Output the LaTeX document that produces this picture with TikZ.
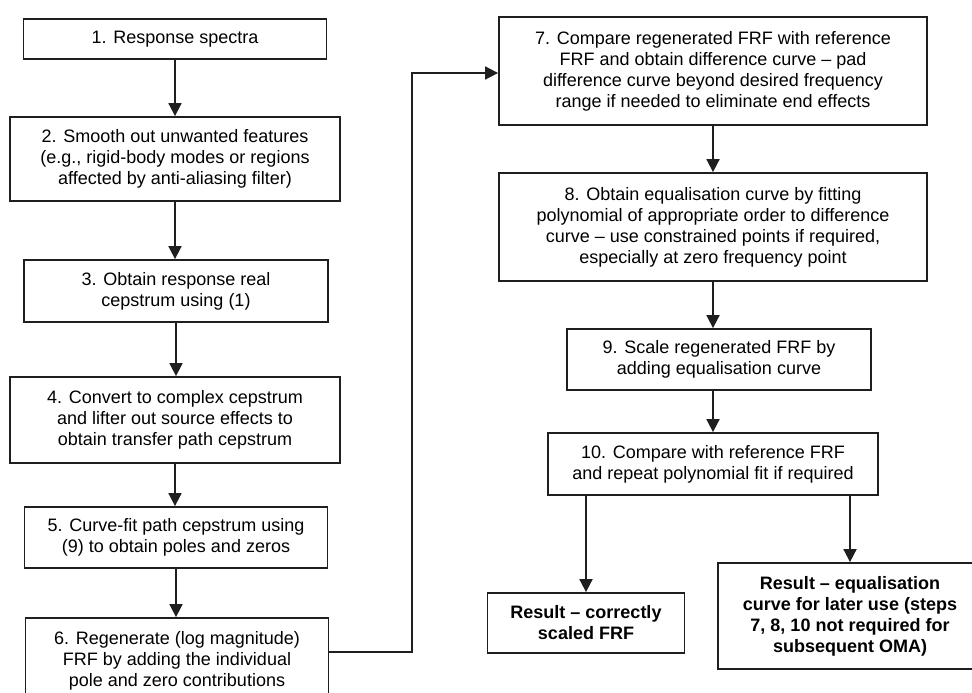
\documentclass[tikz,border=0pt]{standalone}
\usepackage{fontspec}
\setmainfont{Liberation Sans}
\usetikzlibrary{arrows.meta,calc}
\begin{document}
\begin{tikzpicture}[x=1pt,y=-1pt,
  box/.style={draw=black!88,line width=1.8pt,inner sep=0pt,align=center,
    font=\fontsize{18}{21}\selectfont},
  res/.style={box,font=\bfseries\fontsize{18}{21}\selectfont},
  arr/.style={-{Triangle[length=13pt,width=13pt]},line width=1.8pt,draw=black!88}]
\useasboundingbox (0,0) rectangle (972,693);
\clip (0,0) rectangle (972,693);
% left column
\node[box,minimum width=303pt,minimum height=40pt] (b1) at (175,39) {1. Response spectra};
\node[box,minimum width=330pt,minimum height=84pt] (b2) at (175,159)
  {2. Smooth out unwanted features\\(e.g., rigid-body modes or regions\\affected by anti-aliasing filter)};
\node[box,minimum width=304pt,minimum height=62pt] (b3) at (176,291)
  {3. Obtain response real\\cepstrum using (1)};
\node[box,minimum width=330pt,minimum height=86pt] (b4) at (175,420)
  {4. Convert to complex cepstrum\\and lifter out source effects to\\obtain transfer path cepstrum};
\node[box,minimum width=303pt,minimum height=61pt] (b5) at (176,537.5)
  {5. Curve-fit path cepstrum using\\(9) to obtain poles and zeros};
\node[box,minimum width=303pt,minimum height=86pt] (b6) at (177,661)
  {6. Regenerate (log magnitude)\\FRF by adding the individual\\pole and zero contributions};
% right column
\node[box,minimum width=428pt,minimum height=108pt] (b7) at (713,71)
  {7. Compare regenerated FRF with reference\\FRF and obtain difference curve – pad\\difference curve beyond desired frequency\\range if needed to eliminate end effects};
\node[box,minimum width=428pt,minimum height=108pt] (b8) at (713,227)
  {8. Obtain equalisation curve by fitting\\polynomial of appropriate order to difference\\curve – use constrained points if required,\\especially at zero frequency point};
\node[box,minimum width=304pt,minimum height=61pt] (b9) at (719,359.5)
  {9. Scale regenerated FRF by\\adding equalisation curve};
\node[box,minimum width=330pt,minimum height=62pt] (b10) at (713,464)
  {10. Compare with reference FRF\\and repeat polynomial fit if required};
\node[res,minimum width=197pt,minimum height=60pt] (r1) at (586,623)
  {Result – correctly\\scaled FRF};
\node[res,minimum width=264pt,minimum height=106pt] (r2) at (850,616)
  {Result – equalisation\\curve for later use (steps\\7, 8, 10 not required for\\subsequent OMA)};
% connectors
\draw[arr] (b1.south) -- (b1.south |- b2.north);
\draw[arr] (b2.south) -- (b2.south |- b3.north);
\draw[arr] (b3.south) -- (b3.south |- b4.north);
\draw[arr] (b4.south) -- (b4.south |- b5.north);
\draw[arr] (b5.south) -- (b5.south |- b6.north);
\coordinate (turn) at (412,73);
\draw[arr] ($(b6.north east)+(0,35)$) -| (turn) -- (turn -| b7.west);
\draw[arr] (b7.south) -- (b7.south |- b8.north);
\draw[arr] (b8.south) -- (b8.south |- b9.north);
\draw[arr] (b8.south |- b9.south) -- (b8.south |- b10.north);
\draw[arr] (r1.north |- b10.south) -- (r1.north);
\draw[arr] (r2.north |- b10.south) -- (r2.north);
\end{tikzpicture}
\end{document}
